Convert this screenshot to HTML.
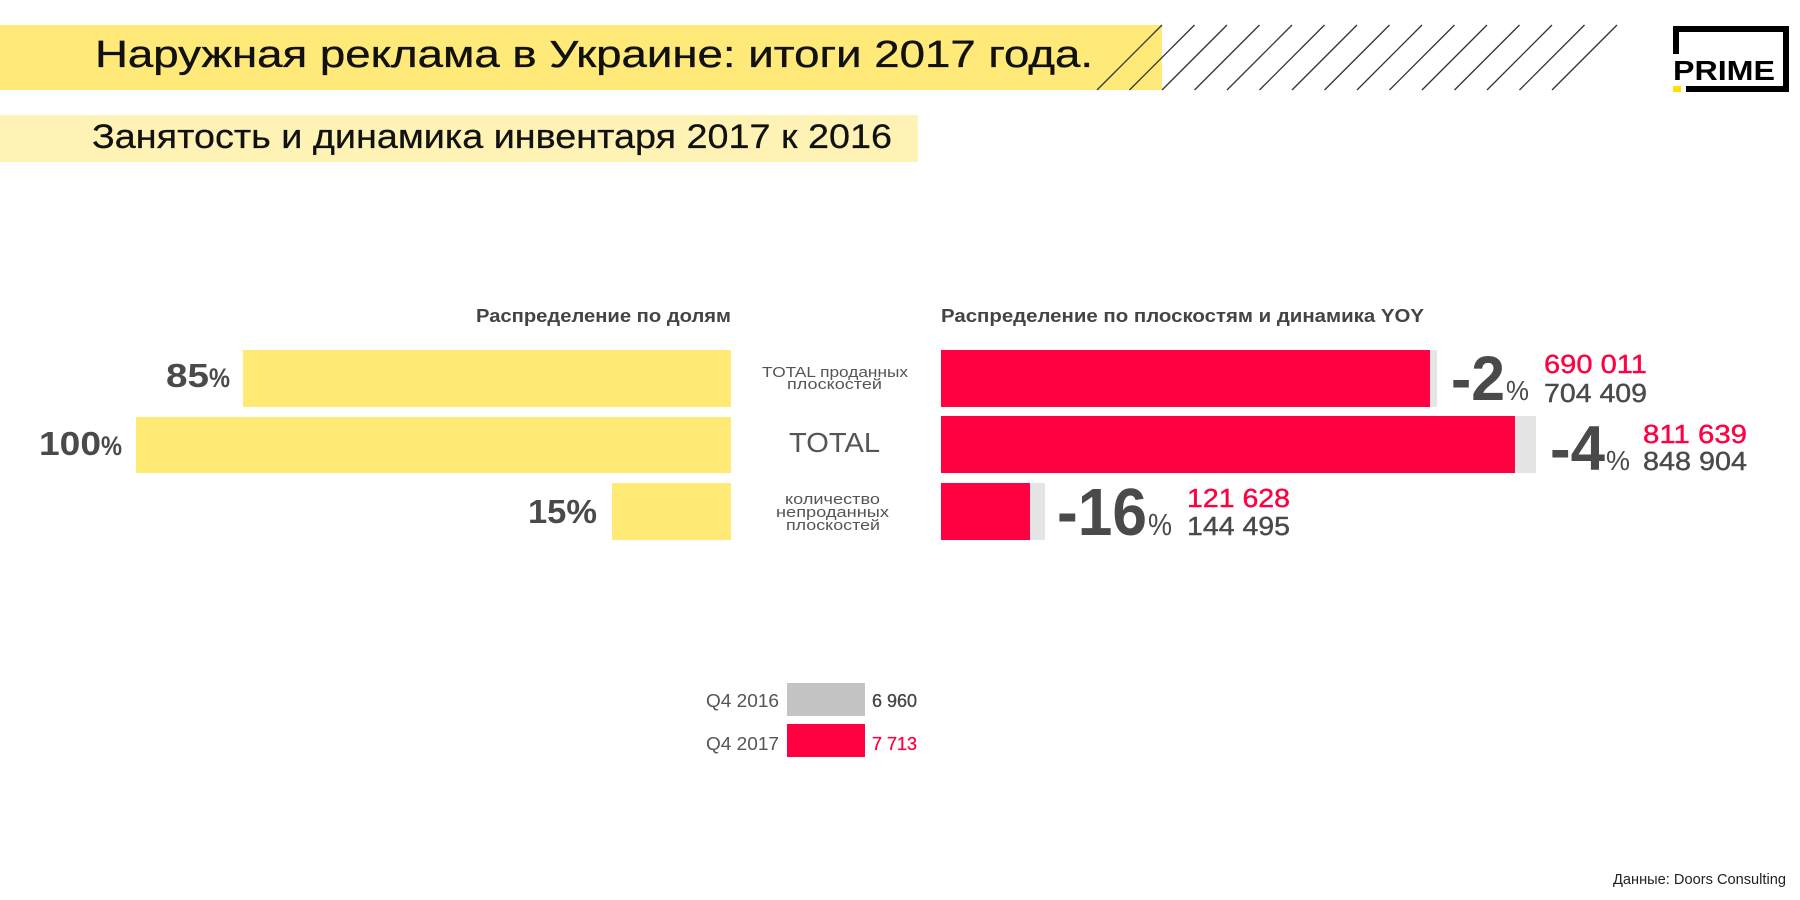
<!DOCTYPE html>
<html>
<head>
<meta charset="utf-8">
<style>
  html, body { margin: 0; padding: 0; background: #ffffff; }
  body { width: 1800px; height: 900px; overflow: hidden; }
  svg { display: block; }
  text { font-family: "Liberation Sans", "DejaVu Sans", sans-serif; }
</style>
</head>
<body>
<svg width="1800" height="900" viewBox="0 0 1800 900" xmlns="http://www.w3.org/2000/svg">
  <rect x="0" y="0" width="1800" height="900" fill="#ffffff"/>

  <!-- Title band -->
  <rect x="0" y="25" width="1162" height="65" fill="#FFE978"/>
  <text x="95" y="67" font-size="38" fill="#111111" stroke="#111111" stroke-width="0.35" textLength="998" lengthAdjust="spacingAndGlyphs">Наружная реклама в Украине: итоги 2017 года.</text>

  <!-- Stripes -->
  <g stroke="#333333" stroke-width="1.3">
    <line x1="1097" y1="90" x2="1162" y2="25"/>
    <line x1="1129.5" y1="90" x2="1194.5" y2="25"/>
    <line x1="1162" y1="90" x2="1227" y2="25"/>
    <line x1="1194.5" y1="90" x2="1259.5" y2="25"/>
    <line x1="1227" y1="90" x2="1292" y2="25"/>
    <line x1="1259.5" y1="90" x2="1324.5" y2="25"/>
    <line x1="1292" y1="90" x2="1357" y2="25"/>
    <line x1="1324.5" y1="90" x2="1389.5" y2="25"/>
    <line x1="1357" y1="90" x2="1422" y2="25"/>
    <line x1="1389.5" y1="90" x2="1454.5" y2="25"/>
    <line x1="1422" y1="90" x2="1487" y2="25"/>
    <line x1="1454.5" y1="90" x2="1519.5" y2="25"/>
    <line x1="1487" y1="90" x2="1552" y2="25"/>
    <line x1="1519.5" y1="90" x2="1584.5" y2="25"/>
    <line x1="1552" y1="90" x2="1617" y2="25"/>
  </g>

  <!-- Logo -->
  <rect x="1673" y="26" width="116" height="6" fill="#000"/>
  <rect x="1673" y="26" width="6" height="28" fill="#000"/>
  <rect x="1783" y="26" width="6" height="66" fill="#000"/>
  <rect x="1686" y="86" width="103" height="6" fill="#000"/>
  <rect x="1673" y="86" width="8" height="6" fill="#FFE000"/>
  <text x="1673" y="80" font-size="28" font-weight="bold" fill="#000" textLength="102" lengthAdjust="spacingAndGlyphs">PRIME</text>

  <!-- Subtitle band -->
  <rect x="0" y="115" width="918" height="47" fill="#FFF2B5"/>
  <text x="92" y="148" font-size="34" fill="#111111" stroke="#111111" stroke-width="0.25" textLength="800" lengthAdjust="spacingAndGlyphs">Занятость и динамика инвентаря 2017 к 2016</text>

  <!-- Headers -->
  <text x="476" y="322" font-size="18" font-weight="bold" fill="#444444" textLength="255" lengthAdjust="spacingAndGlyphs">Распределение по долям</text>
  <text x="941" y="322" font-size="18" font-weight="bold" fill="#444444" textLength="483" lengthAdjust="spacingAndGlyphs">Распределение по плоскостям и динамика YOY</text>

  <!-- Left yellow bars -->
  <rect x="243" y="350" width="488" height="57" fill="#FFEA75"/>
  <rect x="136" y="417" width="595" height="56" fill="#FFEA75"/>
  <rect x="612" y="483" width="119" height="57" fill="#FFEA75"/>

  <text x="166" y="387" font-size="33" font-weight="bold" fill="#4a4a4a" textLength="43" lengthAdjust="spacingAndGlyphs">85</text>
  <text x="209" y="387" font-size="27" font-weight="bold" fill="#4a4a4a" textLength="21" lengthAdjust="spacingAndGlyphs">%</text>
  <text x="39" y="455" font-size="33" font-weight="bold" fill="#4a4a4a" textLength="62" lengthAdjust="spacingAndGlyphs">100</text>
  <text x="101" y="455" font-size="27" font-weight="bold" fill="#4a4a4a" textLength="21" lengthAdjust="spacingAndGlyphs">%</text>
  <text x="528" y="523" font-size="33" font-weight="bold" fill="#4a4a4a" textLength="69" lengthAdjust="spacingAndGlyphs">15%</text>

  <!-- Center labels -->
  <text x="762" y="377" font-size="15" fill="#555555" textLength="146" lengthAdjust="spacingAndGlyphs">TOTAL проданных</text>
  <text x="787" y="389" font-size="15" fill="#555555" textLength="95" lengthAdjust="spacingAndGlyphs">плоскостей</text>
  <text x="789" y="452" font-size="28" fill="#555555" textLength="91" lengthAdjust="spacingAndGlyphs">TOTAL</text>
  <text x="785" y="504" font-size="15" fill="#555555" textLength="95" lengthAdjust="spacingAndGlyphs">количество</text>
  <text x="776" y="517" font-size="15" fill="#555555" textLength="113" lengthAdjust="spacingAndGlyphs">непроданных</text>
  <text x="786" y="530" font-size="15" fill="#555555" textLength="94" lengthAdjust="spacingAndGlyphs">плоскостей</text>

  <!-- Right bars -->
  <rect x="941" y="350" width="496" height="57" fill="#E5E5E5"/>
  <rect x="941" y="350" width="489" height="57" fill="#FF0041"/>
  <rect x="941" y="416" width="595" height="57" fill="#E5E5E5"/>
  <rect x="941" y="416" width="574" height="57" fill="#FF0041"/>
  <rect x="941" y="483" width="104" height="57" fill="#E5E5E5"/>
  <rect x="941" y="483" width="89" height="57" fill="#FF0041"/>

  <!-- Dynamics -->
  <text x="1451" y="400" font-size="63" font-weight="bold" fill="#4a4a4a" textLength="54" lengthAdjust="spacingAndGlyphs">-2</text>
  <text x="1506" y="400" font-size="28" fill="#4a4a4a" textLength="23" lengthAdjust="spacingAndGlyphs">%</text>
  <text x="1544" y="373" font-size="26" fill="#FF0041" stroke="#FF0041" stroke-width="0.4" textLength="103" lengthAdjust="spacingAndGlyphs">690 011</text>
  <text x="1544" y="402" font-size="26" fill="#4a4a4a" stroke="#4a4a4a" stroke-width="0.4" textLength="103" lengthAdjust="spacingAndGlyphs">704 409</text>

  <text x="1550" y="470" font-size="63" font-weight="bold" fill="#4a4a4a" textLength="55" lengthAdjust="spacingAndGlyphs">-4</text>
  <text x="1606" y="470" font-size="28" fill="#4a4a4a" textLength="24" lengthAdjust="spacingAndGlyphs">%</text>
  <text x="1643" y="443" font-size="26" fill="#FF0041" stroke="#FF0041" stroke-width="0.4" textLength="104" lengthAdjust="spacingAndGlyphs">811 639</text>
  <text x="1643" y="470" font-size="26" fill="#4a4a4a" stroke="#4a4a4a" stroke-width="0.4" textLength="104" lengthAdjust="spacingAndGlyphs">848 904</text>

  <text x="1057" y="535" font-size="67" font-weight="bold" fill="#4a4a4a" textLength="90" lengthAdjust="spacingAndGlyphs">-16</text>
  <text x="1148" y="535" font-size="31" fill="#4a4a4a" textLength="24" lengthAdjust="spacingAndGlyphs">%</text>
  <text x="1187" y="507" font-size="26" fill="#FF0041" stroke="#FF0041" stroke-width="0.4" textLength="103" lengthAdjust="spacingAndGlyphs">121 628</text>
  <text x="1187" y="535" font-size="26" fill="#4a4a4a" stroke="#4a4a4a" stroke-width="0.4" textLength="103" lengthAdjust="spacingAndGlyphs">144 495</text>

  <!-- Legend -->
  <text x="706" y="707" font-size="18" fill="#555555" textLength="73" lengthAdjust="spacingAndGlyphs">Q4 2016</text>
  <rect x="787" y="683" width="78" height="33" fill="#C4C4C4"/>
  <text x="872" y="707" font-size="18" fill="#444444" stroke="#444444" stroke-width="0.3" textLength="45" lengthAdjust="spacingAndGlyphs">6 960</text>

  <text x="706" y="750" font-size="18" fill="#555555" textLength="73" lengthAdjust="spacingAndGlyphs">Q4 2017</text>
  <rect x="787" y="724" width="78" height="33" fill="#FF0041"/>
  <text x="872" y="750" font-size="18" fill="#FF0041" stroke="#FF0041" stroke-width="0.3" textLength="45" lengthAdjust="spacingAndGlyphs">7 713</text>

  <!-- Source -->
  <text x="1613" y="884" font-size="14.5" fill="#222222" textLength="173" lengthAdjust="spacingAndGlyphs">Данные: Doors Consulting</text>
</svg>
</body>
</html>
